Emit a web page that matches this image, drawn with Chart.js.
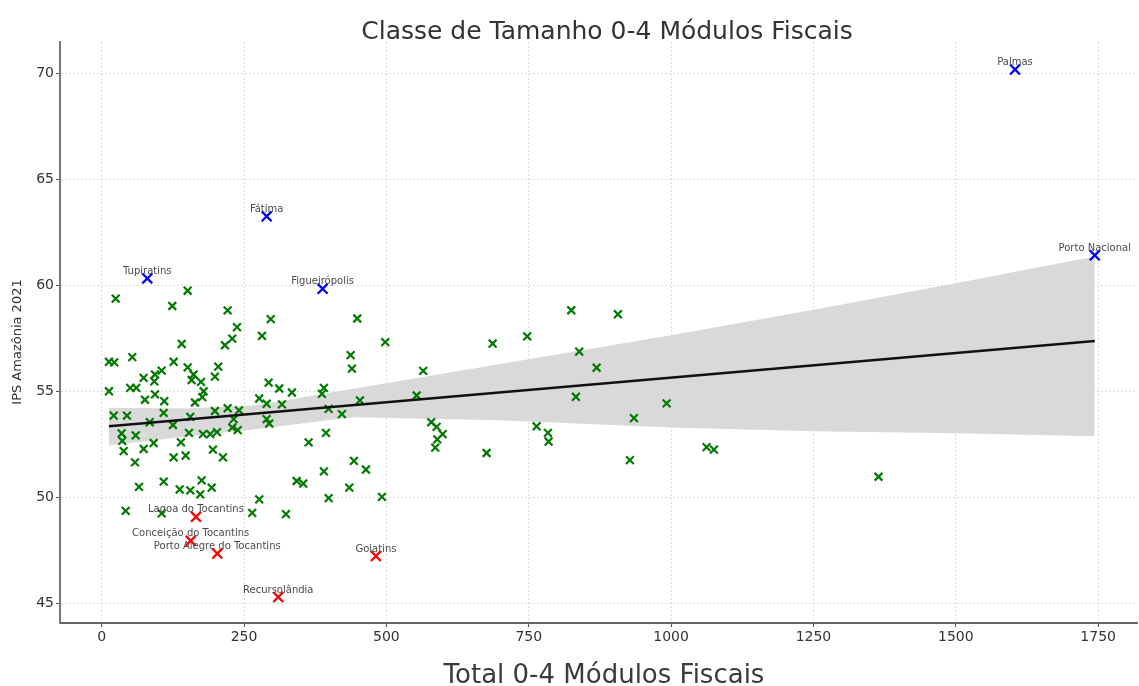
<!DOCTYPE html>
<html>
<head>
<meta charset="utf-8">
<title>Classe de Tamanho 0-4 Módulos Fiscais</title>
<script src="https://cdn.jsdelivr.net/npm/chart.js@4/dist/chart.umd.min.js"></script>
<style>
  html, body { margin: 0; padding: 0; background: #fff; }
  #wrap { width: 1139px; height: 686px; }
</style>
</head>
<body>
<div id="wrap"><canvas id="chart" width="1139" height="686"></canvas></div>
<script>
// municípios sem destaque (verde)
const greenX = [24.6, 151.0, 124.0, 221.2, 237.6, 229.3, 216.5, 140.5, 12.8, 22.1, 53.7, 126.4, 204.7, 151.0, 198.9,
  105.4, 93.6, 73.7, 92.4, 161.5, 158.0, 174.4, 12.8, 50.2, 60.8, 93.6, 76.0, 109.9, 179.1, 176.6, 163.8,
  21.1, 44.4, 108.9, 155.6, 198.9, 221.2, 241.1, 231.8, 84.3, 125.2, 35.1, 36.2, 59.7, 38.6, 73.7, 91.3,
  139.2, 153.3, 177.9, 190.7, 202.5, 229.3, 238.8, 195.4, 126.4, 147.5, 213.0, 58.5, 65.5, 108.9, 137.0,
  155.6, 175.6, 193.2, 173.1, 42.1, 105.4, 264.4, 296.8, 448.8, 281.5, 498.0, 437.2, 439.5, 293.2, 311.8,
  334.1, 390.3, 386.8, 276.7, 289.7, 316.6, 453.5, 398.6, 421.9, 289.7, 294.3, 393.9, 363.5, 443.0, 464.1,
  390.3, 342.4, 354.0, 434.8, 276.7, 398.6, 492.2, 323.6, 564.7, 553.1, 578.8, 588.2, 598.8, 589.3, 585.8,
  676.0, 686.6, 747.3, 824.6, 906.6, 838.6, 869.2, 832.8, 763.8, 783.7, 784.9, 934.7, 992.1, 927.6, 1062.3,
  1075.2, 1364.3];
const greenY = [59.38, 59.75, 59.03, 58.82, 58.03, 57.49, 57.18, 57.24, 56.40, 56.37, 56.62, 56.40, 56.17, 56.14, 55.70,
  55.98, 55.80, 55.64, 55.48, 55.80, 55.54, 55.45, 55.01, 55.17, 55.17, 54.86, 54.61, 54.54, 55.01, 54.73, 54.48,
  53.86, 53.86, 53.99, 53.80, 54.08, 54.21, 54.11, 53.70, 53.55, 53.42, 53.02, 52.67, 52.93, 52.19, 52.29, 52.57,
  52.60, 53.05, 52.99, 52.99, 53.08, 53.30, 53.18, 52.26, 51.89, 51.98, 51.89, 51.66, 50.50, 50.75, 50.38,
  50.34, 50.81, 50.47, 50.15, 49.37, 49.25, 49.28, 58.41, 58.44, 57.62, 57.33, 56.71, 56.08, 55.42, 55.14,
  54.95, 55.17, 54.89, 54.67, 54.42, 54.39, 54.58, 54.18, 53.93, 53.70, 53.49, 53.05, 52.60, 51.73, 51.32,
  51.23, 50.78, 50.66, 50.47, 49.91, 49.97, 50.03, 49.22, 55.97, 54.81, 53.55, 53.33, 52.99, 52.74, 52.35,
  52.10, 57.26, 57.60, 58.83, 58.64, 56.88, 56.12, 54.75, 53.36, 53.05, 52.64, 53.74, 54.44, 51.76, 52.38,
  52.26, 50.98];

// maiores IPS (azul)
const topNames = ['Palmas', 'Porto Nacional', 'Fátima', 'Tupiratins', 'Figueirópolis'];
const topX = [1604, 1744, 289.7, 80.1, 388.0];
const topY = [70.18, 61.42, 63.26, 60.33, 59.84];

// menores IPS (vermelho)
const lowNames = ['Lagoa do Tocantins', 'Conceição do Tocantins', 'Porto Alegre do Tocantins', 'Goiatins', 'Recursolândia'];
const lowX = [165.6, 156.3, 203.0, 481.6, 310.1];
const lowY = [49.09, 47.96, 47.36, 47.24, 45.31];

// reta de regressão e intervalo de confiança
const fitX = [12.8, 1744];
const fitY = [53.36, 57.38];
const bandX = [12.8, 150, 270, 440, 700, 1000, 1250, 1500, 1744];
const bandLower = [52.45, 52.88, 53.22, 53.78, 53.64, 53.30, 53.13, 53.03, 52.89];
const bandUpper = [54.23, 54.20, 54.35, 55.12, 56.30, 57.65, 58.85, 60.10, 61.36];

const xTickValues = [0, 250, 500, 750, 1000, 1250, 1500, 1750];
const yTickValues = [45, 50, 55, 60, 65, 70];

const pts = (xs, ys) => xs.map((x, i) => ({ x: x, y: ys[i] }));

const labelPlugin = {
  id: 'pointLabels',
  afterDatasetsDraw(chart) {
    const ctx = chart.ctx;
    ctx.save();
    ctx.font = '10px "DejaVu Sans"';
    ctx.fillStyle = '#4a4a4a';
    ctx.textAlign = 'center';
    ctx.textBaseline = 'middle';
    [[1, topNames], [2, lowNames]].forEach(([idx, names]) => {
      chart.getDatasetMeta(idx).data.forEach((el, i) => {
        ctx.fillText(names[i], el.x, el.y - 7);
      });
    });
    ctx.restore();
  }
};

const titlesPlugin = {
  id: 'titles',
  afterDraw(chart) {
    const ctx = chart.ctx;
    ctx.save();
    ctx.textAlign = 'center';
    ctx.fillStyle = '#333';
    ctx.font = '25px "DejaVu Sans"';
    ctx.textBaseline = 'alphabetic';
    ctx.fillText('Classe de Tamanho 0-4 Módulos Fiscais', 607, 39);
    ctx.fillStyle = '#3a3a3a';
    ctx.font = '26px "DejaVu Sans"';
    ctx.fillText('Total 0-4 Módulos Fiscais', 604, 683);
    ctx.translate(18, 342);
    ctx.rotate(-Math.PI / 2);
    ctx.font = '13px "DejaVu Sans"';
    ctx.textBaseline = 'middle';
    ctx.fillStyle = '#333';
    ctx.fillText('IPS Amazônia 2021', 0, 0);
    ctx.restore();
  }
};

new Chart(document.getElementById('chart'), {
  type: 'scatter',
  data: {
    datasets: [
      { type: 'line', data: pts(fitX, fitY), borderColor: '#111', borderWidth: 2.6, pointRadius: 0, fill: false },
      { data: pts(topX, topY), pointStyle: 'crossRot', pointRadius: 7, borderColor: '#0000ff', borderWidth: 2.3 },
      { data: pts(lowX, lowY), pointStyle: 'crossRot', pointRadius: 7, borderColor: '#ff0000', borderWidth: 2.3 },
      { data: pts(greenX, greenY), pointStyle: 'crossRot', pointRadius: 5.5, borderColor: '#007a00', borderWidth: 2.2 },
      { type: 'line', data: pts(bandX, bandUpper), borderWidth: 0, pointRadius: 0, fill: '+1', backgroundColor: '#d9d9d9' },
      { type: 'line', data: pts(bandX, bandLower), borderWidth: 0, pointRadius: 0, fill: false }
    ]
  },
  options: {
    responsive: false,
    animation: false,
    layout: { autoPadding: false, padding: { top: 42, right: 2, left: 0, bottom: 0 } },
    plugins: { legend: { display: false }, tooltip: { enabled: false } },
    scales: {
      x: {
        type: 'linear', min: -73.2, max: 1818.2,
        afterBuildTicks: (s) => { s.ticks = xTickValues.map(v => ({ value: v })); },
        afterFit: (s) => { s.height = 63; s.paddingLeft = 0; s.paddingRight = 0; },
        ticks: { color: '#333', font: { family: 'DejaVu Sans', size: 14 }, padding: 2, maxRotation: 0,
                 callback: (v) => String(v) },
        grid: { color: '#dcdcdc', lineWidth: 1, tickColor: '#555', tickLength: 4 },
        border: { display: true, color: '#666', width: 2, dash: [2, 2] }
      },
      y: {
        type: 'linear', min: 44.085, max: 71.476,
        afterBuildTicks: (s) => { s.ticks = yTickValues.map(v => ({ value: v })); },
        afterFit: (s) => { s.width = 60; s.paddingTop = 0; s.paddingBottom = 0; },
        ticks: { color: '#333', font: { family: 'DejaVu Sans', size: 14 }, padding: 2 },
        grid: { color: '#dcdcdc', lineWidth: 1, tickColor: '#555', tickLength: 4 },
        border: { display: true, color: '#777', width: 2, dash: [2, 2] }
      }
    }
  },
  plugins: [labelPlugin, titlesPlugin]
});
</script>
</body>
</html>
